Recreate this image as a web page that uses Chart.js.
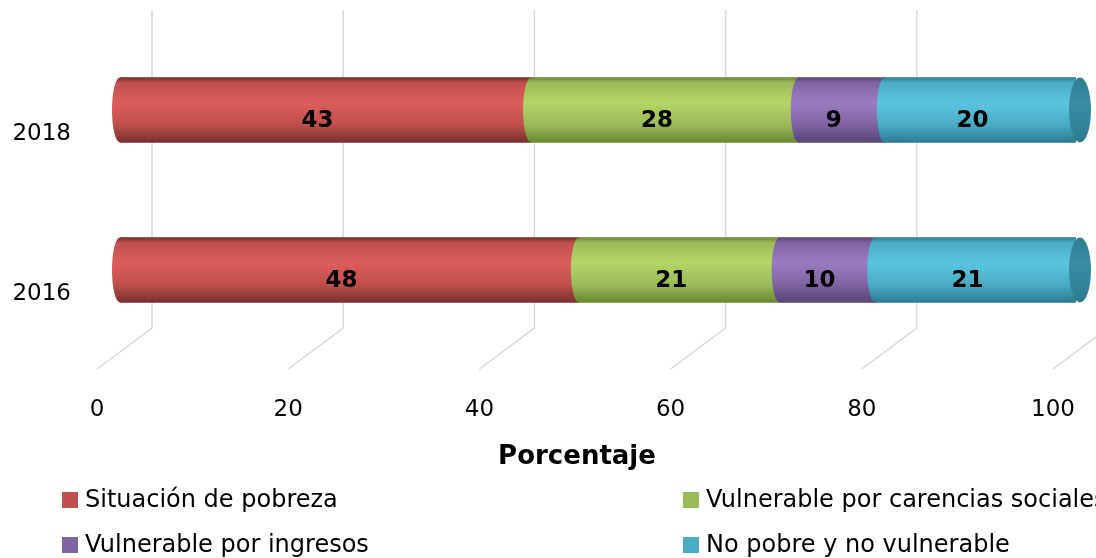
<!DOCTYPE html>
<html><head><meta charset="utf-8">
<script src="https://cdn.jsdelivr.net/npm/chart.js@4/dist/chart.umd.min.js"></script>
<style>html,body{margin:0;padding:0;background:#fff;}canvas{display:block;}</style>
</head><body>
<canvas id="c" width="1096" height="558"></canvas>
<script>
// ---- data ----
const categories = ['2018', '2016'];
const seriesNames = ['Situación de pobreza', 'Vulnerable por carencias sociales', 'Vulnerable por ingresos', 'No pobre y no vulnerable'];
const pobreza = [43, 48];
const carencias = [28, 21];
const ingresos = [9, 10];
const noPobre = [20, 21];
const xTicks = [0, 20, 40, 60, 80, 100];
const axisTitle = 'Porcentaje';

// ---- styles ----
const FONT = "'DejaVu Sans', 'Noto Sans', sans-serif";
const palette = [
  {base:'#C0504D', light:'#DC5E5B', dark:'#7A2E2C', cap:'#9E403E'},
  {base:'#9BBB59', light:'#B4D667', dark:'#6A8733', cap:'#7F9C45'},
  {base:'#8064A2', light:'#9A7DC1', dark:'#574277', cap:'#6B5390'},
  {base:'#4BACC6', light:'#5CC4E0', dark:'#2C7C92', cap:'#3B8CA3'}
];
const BAR_T = 65;

function cylGrad(chart, idx, c) {
  const ys = chart.scales && chart.scales.y;
  if (!ys || !chart.chartArea) return c.base;
  const yc = ys.getPixelForValue(idx);
  const g = chart.ctx.createLinearGradient(0, yc - BAR_T/2, 0, yc + BAR_T/2);
  g.addColorStop(0, c.dark);
  g.addColorStop(0.08, c.base);
  g.addColorStop(0.38, c.light);
  g.addColorStop(0.72, c.base);
  g.addColorStop(1, c.dark);
  return g;
}
function capGrad(ctx, yc, c) {
  const g = ctx.createLinearGradient(0, yc - BAR_T/2, 0, yc + BAR_T/2);
  g.addColorStop(0, c.dark);
  g.addColorStop(0.4, c.cap);
  g.addColorStop(1, c.dark);
  return g;
}

const seriesValues = [pobreza, carencias, ingresos, noPobre];
const datasets = seriesValues.map((vals, i) => ({
  label: seriesNames[i],
  data: vals,
  barThickness: BAR_T,
  borderWidth: 0,
  backgroundColor: (ctx) => cylGrad(ctx.chart, ctx.dataIndex, palette[i])
}));

const excel3d = {
  id: 'excel3d',
  beforeDatasetsDraw(chart) {
    const ctx = chart.ctx, xs = chart.scales.x, ca = chart.chartArea;
    ctx.save();
    ctx.strokeStyle = '#D9D9D9';
    ctx.lineWidth = 1.5;
    xTicks.forEach(v => {
      const p = xs.getPixelForValue(v);
      const xb = p + 32, xf = p - 23;
      const yTop = ca.top - 20, yB = ca.bottom - 22, yF = ca.bottom + 19;
      ctx.beginPath();
      ctx.moveTo(xb, yTop); ctx.lineTo(xb, yB); ctx.lineTo(xf, yF);
      ctx.stroke();
    });
    ctx.restore();
  },
  afterDatasetsDraw(chart) {
    const ctx = chart.ctx;
    const n = chart.data.datasets.length;
    ctx.save();
    // caps
    for (let i = 0; i < n; i++) {
      const meta = chart.getDatasetMeta(i);
      meta.data.forEach((el, j) => {
        const left = Math.min(el.x, el.base), right = Math.max(el.x, el.base);
        const ry = el.height / 2;
        ctx.fillStyle = cylGrad(chart, j, palette[i]);
        ctx.beginPath();
        ctx.ellipse(left, el.y, 8, ry, 0, 0, Math.PI*2);
        ctx.fill();
        if (i === n - 1) {
          ctx.fillStyle = capGrad(ctx, el.y, palette[i]);
          ctx.beginPath();
          ctx.ellipse(right + 4, el.y, 11, ry, 0, 0, Math.PI*2);
          ctx.fill();
        }
      });
    }
    // data labels
    ctx.fillStyle = '#000';
    ctx.font = "bold 23px " + FONT;
    ctx.textAlign = 'center';
    ctx.textBaseline = 'middle';
    for (let i = 0; i < n; i++) {
      const meta = chart.getDatasetMeta(i);
      meta.data.forEach((el, j) => {
        const cx = (el.x + el.base) / 2 - 8;
        ctx.fillText(String(chart.data.datasets[i].data[j]), cx, el.y + 11);
      });
    }
    // axis title
    const xs = chart.scales.x;
    ctx.font = "bold 26px " + FONT;
    ctx.fillText(axisTitle, (xs.getPixelForValue(0) + xs.getPixelForValue(100)) / 2 - 21, 457);
    // legend (2 x 2 grid)
    const colX = [62, 683], rowY = [500, 545];
    ctx.font = "24px " + FONT;
    ctx.textAlign = 'left';
    chart.data.datasets.forEach((ds, i) => {
      const x = colX[i % 2], y = rowY[Math.floor(i / 2)];
      ctx.fillStyle = palette[i].base;
      ctx.fillRect(x, y - 8, 16, 16);
      ctx.fillStyle = '#000';
      ctx.fillText(ds.label, x + 23, y + 1);
    });
    ctx.restore();
  }
};

new Chart(document.getElementById('c'), {
  type: 'bar',
  data: { labels: categories, datasets },
  plugins: [excel3d],
  options: {
    responsive: false,
    animation: false,
    indexAxis: 'y',
    layout: { autoPadding: false, padding: { top: 30, bottom: 135, left: 0, right: 20 } },
    scales: {
      x: {
        stacked: true, min: 0, max: 100,
        afterBuildTicks: s => { s.ticks = xTicks.map(v => ({ value: v })); },
        afterFit: s => { s.height = 73; s.paddingLeft = 0; s.paddingRight = 0; },
        grid: { display: false, drawTicks: false },
        border: { display: false },
        ticks: { labelOffset: -23, padding: 46, maxRotation: 0, autoSkip: false, color: '#000',
                 font: { family: FONT, size: 23 } }
      },
      y: {
        stacked: true,
        afterFit: s => { s.width = 120; s.paddingTop = 0; s.paddingBottom = 0; },
        grid: { display: false, drawTicks: false },
        border: { display: false },
        ticks: { labelOffset: 24, padding: 49, color: '#000', font: { family: FONT, size: 23 } }
      }
    },
    plugins: { legend: { display: false }, tooltip: { enabled: false } }
  }
});
</script>
</body></html>
